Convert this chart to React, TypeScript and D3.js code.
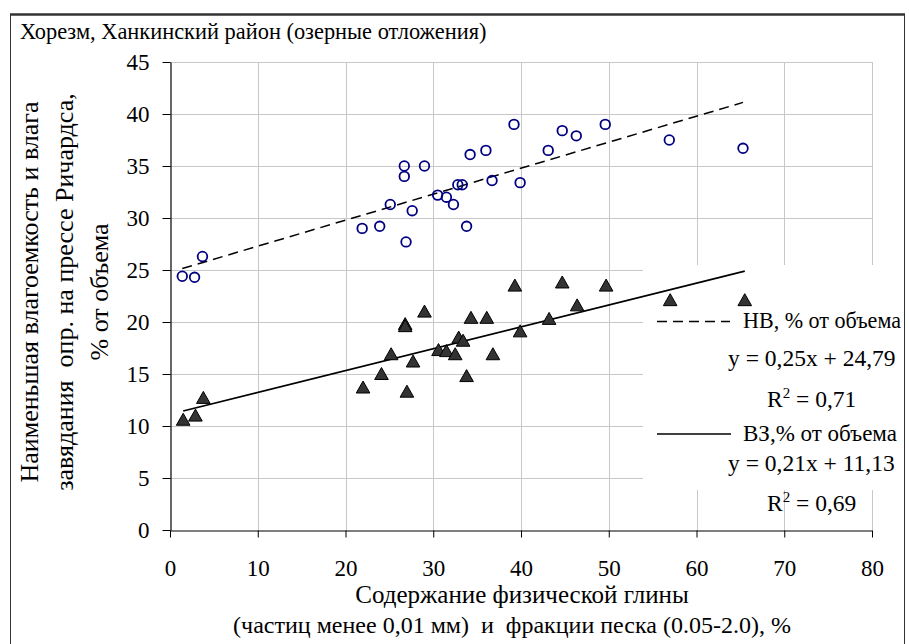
import { useRef, useEffect } from 'react'
import * as d3 from 'd3'

// axis ticks
const xTicks = [0, 10, 20, 30, 40, 50, 60, 70, 80]
const yTicks = [0, 5, 10, 15, 20, 25, 30, 35, 40, 45]

// НВ (circles)
const nvX = [1.4, 2.8, 3.7, 21.9, 23.9, 25.1, 26.7, 26.7, 26.9, 27.6, 29.0, 30.5, 31.5, 32.3, 32.8, 33.3, 33.8, 34.2, 36.0, 36.7, 39.2, 39.9, 43.1, 44.7, 46.3, 49.6, 56.9, 65.3]
const nvY = [24.4, 24.3, 26.3, 29.0, 29.2, 31.3, 35.0, 34.0, 27.7, 30.7, 35.0, 32.2, 32.0, 31.3, 33.2, 33.2, 29.2, 36.1, 36.5, 33.6, 39.0, 33.4, 36.5, 38.4, 37.9, 39.0, 37.5, 36.7]

// ВЗ (triangles)
const vzX = [1.5, 2.9, 3.8, 22.0, 24.1, 25.2, 26.8, 26.8, 27.0, 27.7, 29.0, 30.6, 31.5, 32.5, 32.9, 33.4, 33.8, 34.3, 36.1, 36.8, 39.3, 39.9, 43.2, 44.7, 46.4, 49.7, 57.0, 65.5]
const vzY = [10.6, 11.0, 12.7, 13.7, 15.0, 16.9, 19.8, 19.6, 13.3, 16.2, 21.0, 17.3, 17.2, 16.9, 18.5, 18.2, 14.8, 20.4, 20.4, 16.9, 23.5, 19.1, 20.3, 23.8, 21.6, 23.5, 22.1, 22.1]

// linear trends [slope, intercept]
const nvTrend = [0.25, 24.79]
const vzTrend = [0.21, 11.13]

const title = 'Хорезм, Ханкинский район (озерные отложения)'
const xTitle = ['Содержание физической глины', '(частиц менее 0,01 мм)  и  фракции песка (0.05-2.0), %']
const yTitle = ['Наименьшая влагоемкость и влага', 'завядания  опр. на прессе Ричардса,', '% от объема']
const legendNames = ['НВ, % от объема', 'ВЗ,% от объема']
const legendEq = ['y = 0,25x + 24,79', 'y = 0,21x + 11,13']
const legendR2 = ['0,71', '0,69']

const FONT = "'Liberation Serif'"

export default function App() {
  const svgRef = useRef<SVGSVGElement>(null)

  useEffect(() => {
    if (!svgRef.current) return
    const svg = d3.select(svgRef.current)
    svg.selectAll('*').remove()

    const x = d3.scaleLinear().domain([0, 80]).range([170, 872])
    const y = d3.scaleLinear().domain([0, 45]).range([530, 62])

    const txt = (parent: any, s: string, size: number) =>
      parent.append('text')
        .style('font-family', FONT)
        .style('font-size', `${size}px`)
        .style('white-space', 'pre')
        .attr('fill', '#000')
        .text(s)

    // outer frame
    svg.append('rect')
      .attr('x', 10.5).attr('y', 14.5).attr('width', 894).attr('height', 640)
      .attr('fill', 'white').attr('stroke', '#333').attr('stroke-width', 1)
    svg.append('line')
      .attr('x1', 10).attr('x2', 905).attr('y1', 14.5).attr('y2', 14.5)
      .attr('stroke', '#333').attr('stroke-width', 2.5)

    txt(svg, title, 22.4).attr('x', 20).attr('y', 39)

    // grid
    const grid = svg.append('g').attr('stroke', '#c8c8c8').attr('stroke-width', 1)
    grid.selectAll('line.h')
      .data(yTicks.filter((d) => d > 0))
      .join('line')
      .attr('x1', x(0)).attr('x2', x(80))
      .attr('y1', (d) => Math.round(y(d)) + 0.5).attr('y2', (d) => Math.round(y(d)) + 0.5)
    grid.selectAll('line.v')
      .data(xTicks.filter((d) => d > 0))
      .join('line')
      .attr('x1', (d) => Math.round(x(d)) + 0.5).attr('x2', (d) => Math.round(x(d)) + 0.5)
      .attr('y1', y(45)).attr('y2', y(0))

    // legend box (over grid, under series)
    svg.append('rect')
      .attr('x', 643).attr('y', 265).attr('width', 261).attr('height', 225)
      .attr('fill', 'white')

    // axes
    const gx = svg.append('g').attr('transform', `translate(0,${Math.round(y(0)) + 0.5})`)
    gx.call(d3.axisBottom(x).tickValues(xTicks).tickSize(7).tickSizeOuter(0).tickFormat(d3.format('d')))
      .call((g) => {
        g.select('.domain').attr('stroke', '#000').attr('stroke-width', 1.2)
        g.selectAll('.tick line').attr('stroke', '#000')
        g.selectAll('.tick text')
          .attr('fill', '#000').style('font-family', FONT).style('font-size', '23px')
          .attr('y', 45).attr('dy', 0)
      })

    const gy = svg.append('g').attr('transform', `translate(${Math.round(x(0)) + 0.5},0)`)
    gy.call(d3.axisLeft(y).tickValues(yTicks).tickSize(8).tickSizeOuter(0).tickFormat(d3.format('d')))
      .call((g) => {
        g.select('.domain').attr('stroke', '#000').attr('stroke-width', 1.2)
        g.selectAll('.tick line').attr('stroke', '#000')
        g.selectAll('.tick text')
          .attr('fill', '#000').style('font-family', FONT).style('font-size', '23px')
          .attr('x', -21).attr('dy', '0.34em')
      })

    // trendlines
    const trend = (t: number[], xs: number[]) => {
      const [x0, x1] = d3.extent(xs) as [number, number]
      return [[x0, t[0] * x0 + t[1]], [x1, t[0] * x1 + t[1]]]
    }
    const line = d3.line<number[]>().x((d) => x(d[0])).y((d) => y(d[1]))
    svg.append('path')
      .attr('d', line(trend(nvTrend, nvX)))
      .attr('fill', 'none').attr('stroke', '#000').attr('stroke-width', 1.5)
      .attr('stroke-dasharray', '10,6')
    svg.append('path')
      .attr('d', line(trend(vzTrend, vzX)))
      .attr('fill', 'none').attr('stroke', '#000').attr('stroke-width', 1.7)

    // points
    svg.append('g').selectAll('circle')
      .data(nvX.map((d, i) => [d, nvY[i]]))
      .join('circle')
      .attr('cx', (d) => x(d[0])).attr('cy', (d) => y(d[1]))
      .attr('r', 4.8)
      .attr('fill', 'none').attr('stroke', '#000080').attr('stroke-width', 1.8)

    svg.append('g').selectAll('path')
      .data(vzX.map((d, i) => [d, vzY[i]]))
      .join('path')
      .attr('transform', (d) => `translate(${x(d[0])},${y(d[1])})`)
      .attr('d', 'M0,-6.5L6.8,5.5L-6.8,5.5Z')
      .attr('fill', '#333').attr('stroke', '#000').attr('stroke-width', 1)

    // legend
    const leg = svg.append('g')
    leg.append('line').attr('x1', 657).attr('x2', 730).attr('y1', 321.5).attr('y2', 321.5)
      .attr('stroke', '#000').attr('stroke-width', 1.5).attr('stroke-dasharray', '10,6')
    leg.append('line').attr('x1', 657).attr('x2', 731).attr('y1', 434).attr('y2', 434)
      .attr('stroke', '#000').attr('stroke-width', 1.7)
    const names: [string, number, number][] = [
      [legendNames[0], 328, 158],
      [legendNames[1], 441, 154],
    ]
    names.forEach(([t, ly, len]) => {
      txt(leg, t, 23).attr('x', 743).attr('y', ly)
        .attr('textLength', len).attr('lengthAdjust', 'spacingAndGlyphs')
    })
    ;[[legendEq[0], 366], [legendEq[1], 471]].forEach(([t, ly]) => {
      txt(leg, t as string, 23.5).attr('x', 728).attr('y', ly as number)
    })
    ;[[legendR2[0], 407], [legendR2[1], 511]].forEach(([v, ly]) => {
      const t = txt(leg, '', 23.5).attr('x', 767).attr('y', ly as number)
      t.append('tspan').text('R')
      t.append('tspan').style('font-size', '15px').attr('dy', -9).text('2')
      t.append('tspan').attr('dy', 9).text(` = ${v}`)
    })

    // axis titles
    txt(svg, xTitle[0], 25).attr('x', 522).attr('y', 603).attr('text-anchor', 'middle')
    txt(svg, xTitle[1], 24).attr('x', 512).attr('y', 633).attr('text-anchor', 'middle')

    const yBase = [38, 73, 108]
    yTitle.forEach((t, i) => {
      txt(svg, t, 26)
        .attr('transform', `translate(${yBase[i]},292) rotate(-90)`)
        .attr('text-anchor', 'middle')
    })
  }, [])

  return (
    <div style={{ position: 'fixed', left: 0, top: 0, width: 909, height: 644, background: 'white' }}>
      <svg ref={svgRef} width={909} height={644} />
    </div>
  )
}
